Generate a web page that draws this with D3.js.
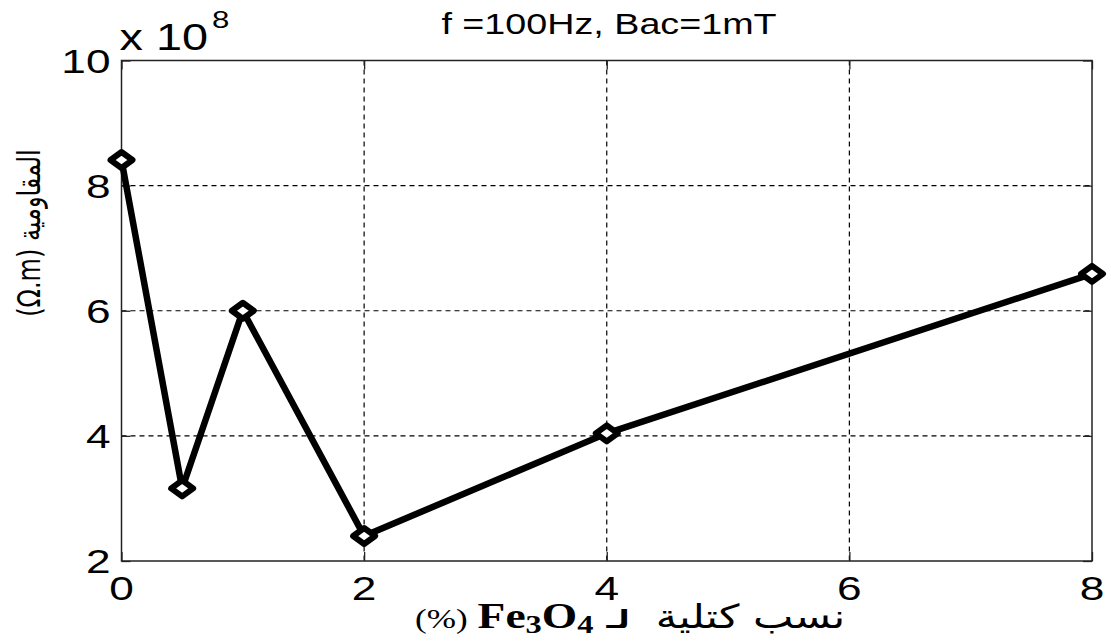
<!DOCTYPE html>
<html>
<head>
<meta charset="utf-8">
<script src="https://cdn.jsdelivr.net/npm/d3@7"></script>
<style>
  body { margin: 0; background: #fff; }
  text { font-family: "Liberation Sans", Arial, sans-serif; fill: #000; }
</style>
</head>
<body>
<div id="chart"></div>
<script>
// data (resistivity in units of 1e8 ohm.m)
var massRatio = [0, 0.5, 1, 2, 4, 8];
var resistivity = [8.41, 3.16, 6.0, 2.4, 4.04, 6.59];
var xTicks = [0, 2, 4, 6, 8];
var yTicks = [2, 4, 6, 8, 10];
var titleText = "f =100Hz, Bac=1mT";

var width = 1111,
    height = 644,
    margin = {top: 60.5, right: 19, bottom: 83, left: 121.5};

var SX = 1.3; // picture is stretched horizontally

var svg = d3.select("#chart").append("svg")
    .attr("width", width)
    .attr("height", height);

var x = d3.scaleLinear().domain([0, 8]).range([margin.left, width - margin.right]);
var y = d3.scaleLinear().domain([2, 10]).range([height - margin.bottom, margin.top]);

// stretched text helper
function stext(px, py, str, size, anchor) {
    return svg.append("text")
        .attr("transform", "translate(" + px + "," + py + ") scale(" + SX + ",1)")
        .attr("text-anchor", anchor || "start")
        .style("font-size", size + "px")
        .text(str);
}

// grid
svg.append("g").selectAll("line")
    .data(xTicks.slice(1, -1))
    .enter().append("line")
    .attr("x1", function(d) { return x(d); })
    .attr("x2", function(d) { return x(d); })
    .attr("y1", y(10)).attr("y2", y(2))
    .attr("stroke", "#000").attr("stroke-width", 1.2)
    .attr("stroke-dasharray", "5,4");

svg.append("g").selectAll("line")
    .data(yTicks.slice(1, -1))
    .enter().append("line")
    .attr("y1", function(d) { return y(d); })
    .attr("y2", function(d) { return y(d); })
    .attr("x1", x(0)).attr("x2", x(8))
    .attr("stroke", "#000").attr("stroke-width", 1.2)
    .attr("stroke-dasharray", "5,4");

// axes with inward ticks
var tl = 9;
var axisStyle = function(g) {
    g.select(".domain").remove();
    g.selectAll(".tick line").attr("stroke", "#222").attr("stroke-width", 1.3);
    g.selectAll(".tick text").remove();
};
svg.append("g").attr("transform", "translate(0," + y(2) + ")")
    .call(d3.axisBottom(x).tickValues(xTicks).tickSize(-tl)).call(axisStyle);
svg.append("g").attr("transform", "translate(0," + y(10) + ")")
    .call(d3.axisTop(x).tickValues(xTicks).tickSize(-tl)).call(axisStyle);
svg.append("g").attr("transform", "translate(" + x(0) + ",0)")
    .call(d3.axisLeft(y).tickValues(yTicks).tickSize(-tl)).call(axisStyle);
svg.append("g").attr("transform", "translate(" + x(8) + ",0)")
    .call(d3.axisRight(y).tickValues(yTicks).tickSize(-tl)).call(axisStyle);

svg.append("rect")
    .attr("x", x(0)).attr("y", y(10))
    .attr("width", x(8) - x(0)).attr("height", y(2) - y(10))
    .attr("fill", "none").attr("stroke", "#222").attr("stroke-width", 1.5);

// tick labels
xTicks.forEach(function(d) {
    stext(x(d), y(2) + 39, d, 34, "middle");
});
yTicks.forEach(function(d) {
    stext(x(0) - 11, y(d) + 12, d, 34, "end");
});

// exponent
stext(x(0) - 2, 50, "x 10", 36, "start");
stext(212, 28, "8", 24, "start");

// title
stext(609, 34, titleText, 29, "middle");

// line + diamond markers
var pts = massRatio.map(function(d, i) { return [d, resistivity[i]]; });
var line = d3.line()
    .x(function(d) { return x(d[0]); })
    .y(function(d) { return y(d[1]); });

svg.append("path")
    .datum(pts)
    .attr("d", line)
    .attr("fill", "none")
    .attr("stroke", "#000")
    .attr("stroke-width", 6.5)
    .attr("stroke-linejoin", "round");

svg.selectAll(".mk")
    .data(pts)
    .enter().append("path")
    .attr("class", "mk")
    .attr("transform", function(d) { return "translate(" + x(d[0]) + "," + y(d[1]) + ")"; })
    .attr("d", "M-11,0L0,-8L11,0L0,8Z")
    .attr("fill", "#fff")
    .attr("stroke", "#000")
    .attr("stroke-width", 6)
    .attr("stroke-linejoin", "round");

// y label (rotated, stretched across screen x)
svg.append("text")
    .attr("transform", "translate(40,233) rotate(-90) scale(1," + SX + ")")
    .attr("text-anchor", "middle")
    .attr("direction", "rtl")
    .style("font-family", "'DejaVu Sans', sans-serif")
    .style("font-size", "24px")
    .text("المقاومية (Ω.m)");

// x label, pieces laid out left to right
var xl = svg.append("g");
var base = 628;
var parts = [
    {t: "(%)", f: "'Liberation Serif', serif", s: 27, w: "normal"},
    {t: "Fe", f: "'Liberation Serif', serif", s: 35, w: "bold", gap: 10},
    {t: "3", f: "'Liberation Serif', serif", s: 25, w: "bold", dy: 5},
    {t: "O", f: "'Liberation Serif', serif", s: 35, w: "bold"},
    {t: "4", f: "'Liberation Serif', serif", s: 25, w: "bold", dy: 5},
    {t: "لـ", f: "'DejaVu Sans', sans-serif", s: 25, w: "bold", gap: 13},
    {t: "نسب كتلية", f: "'DejaVu Sans', sans-serif", s: 33, w: "normal", gap: 26, rtl: true}
];
var cx = 415;
parts.forEach(function(p) {
    cx += (p.gap || 0);
    var t = xl.append("text")
        .attr("transform", "translate(" + cx + "," + (base + (p.dy || 0)) + ") scale(" + SX + ",1)")
        .style("font-family", p.f)
        .style("font-size", p.s + "px")
        .style("font-weight", p.w)
        .text(p.t);
    if (p.rtl) t.attr("direction", "rtl").attr("text-anchor", "end");
    cx += t.node().getComputedTextLength() * SX;
});
</script>
</body>
</html>
